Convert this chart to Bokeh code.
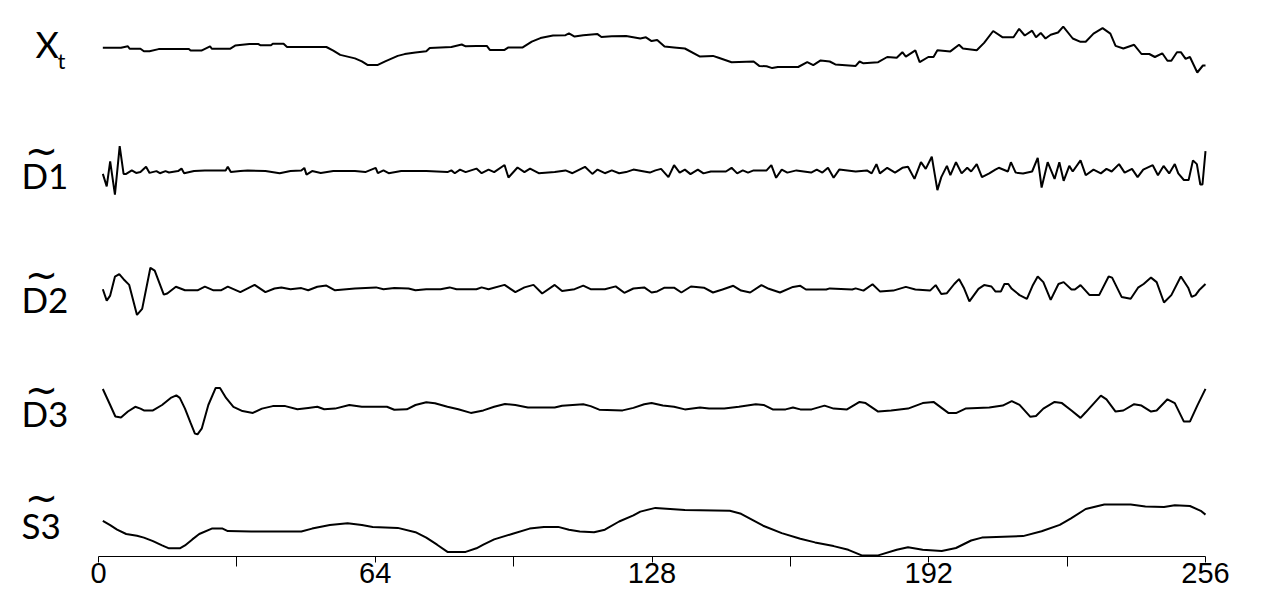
from bokeh.plotting import figure
from bokeh.models import Range1d, FixedTicker
from bokeh.embed import file_html
from bokeh.resources import INLINE
from bokeh.core.properties import value

# ---------------- data ----------------
XT_T = [1, 5.2, 6.8, 7.2, 9.7, 10.5, 11.8, 13.9, 20.9, 21.3, 23.8, 25.8, 26.2, 30.4, 31.6, 34.9, 37, 37.4, 39.9, 40.3,
        42.8, 43.6, 52.7, 54.3, 55.9, 59.3, 60.9, 62.2, 64.6, 66.3, 69.2, 70.8, 73.3, 75.8, 76.6, 81.6, 84, 84.9, 87.4, 89.8,
        90.5, 93.9, 94.8, 98.1, 100.2, 102.2, 105.1, 108, 108.8, 110.1, 112.1, 115.4, 116.3, 118.7, 122,
        125.3, 126.6, 127.9, 129.2, 130.9, 133.1, 135.6, 139.1, 142.1, 143.4, 146.4, 151.5, 152.8, 154.5, 155.8, 157.1,
        161.8, 163.9, 165.3, 167, 169.1, 170.4, 175.1, 176, 176.9, 180.3, 182.4, 184.6, 185.9, 186.7, 188.9, 189.9, 191.9,
        193.1, 194, 197, 199, 199.9, 203.1, 204.8, 206.9, 209.1, 211.6, 212.9, 214.2, 215.9, 216.8, 217.9, 219, 220.2,
        221.9, 223.1, 225.3, 227.1, 228.3, 230.1, 232.2, 234, 235.2, 237, 239.5, 241.2, 243, 244.3, 246, 247.2, 248.1,
        249.4, 250.3, 251.4, 252.4, 254.1, 255.4, 256]
XT_V = [-3.2, -3.2, -1.8, -4.3, -4.3, -6.8, -6.8, -4.6, -4.6, -6.1, -6.1, -1.8, -4.3, -4.3, -1.1, 0.4, 0.4, -0.7, -0.7, 0.7,
        0.7, -2.5, -2.5, -6.1, -10.4, -13.9, -16.8, -20.4, -20.4, -16.8, -11.4, -9.6, -7.9, -6.8, -3.6, -2.5, 0, -1.8, -1.4, -1.4,
        -5.4, -5.4, -2.9, -2.9, 2.9, 6.4, 8.9, 9.3, 11.1, 7.9, 9.3, 10.4, 7.5, 8.2, 8.6,
        6, 7.2, 3.4, 4.6, -2.1, -2.9, -4, -12.1, -11.4, -13.3, -17.7, -17, -21.4, -21.8, -23.6, -22.5,
        -22.5, -17.7, -20.7, -15.9, -17, -19.9, -21.4, -17, -18.8, -17.7, -12.5, -13.3, -7.7, -12.1, -5.8, -17.7, -12.5,
        -12.5, -5.8, -6.9, -0.3, -4, -5.8, 1.6, 13.5, 7.2, 7.2, 15.7, 9, 13.8, 7.2, 11.6, 6, 9.8,
        12, 17.9, 6, 2.7, 2.7, 10.9, 16.4, 10.9, -1.4, -4, -0.3, -9.5, -9.5, -12.5, -8.8, -16.2, -16.2,
        -7.7, -7.7, -14.4, -12.5, -28, -21, -21]

D1_T = [1, 1.9, 2.7, 3.8, 4.9, 5.8, 6.4, 7.7, 8.7, 9.7, 11, 11.8, 13.4, 14.2, 15.5, 16.3, 18.4, 19.2, 19.8, 22.1,
        24.6, 29.4, 29.9, 30.6, 32.8, 34.5, 38.6, 41.9, 44.4, 46.9, 47.6, 48.1, 49.4, 51.4, 54.3, 59.3, 61.7, 64.1, 64.6,
        65.9, 67.1, 70, 75.8, 80.7, 81.6, 82.4, 83.6, 84.9, 87.4, 88.6, 90.2, 91.5, 93.9, 94.8, 96.9, 98.5, 99.8, 101.8,
        105.5, 108, 109.6, 112.5, 114.2, 115.4, 117.1, 118.7, 120.4, 122, 123.7,
        126.2, 127.5, 128.8, 130.1, 131.8, 133.1, 134.4, 135.6, 136.9, 138.6, 139.9, 141.6, 145.1, 146.4, 147.7, 149,
        150.2, 151.5, 154.5, 155.6, 156.7, 158, 159.3, 161.4, 163.1, 164.8, 166.1, 167.4, 168.7, 170, 171.3, 175.1,
        177.7, 178.8, 179.9, 180.7, 182.4, 184.2, 185.9, 187.2, 188.7, 190.2, 191.3, 192.7, 194, 194.9, 196.2, 197,
        198.3, 199.6, 200.9, 201.8, 203.1, 204.3, 206, 207.4, 208.2, 210.3, 211, 212.1, 213.8, 215.9, 217.2, 218.1,
        219.5, 221.1, 222.2, 223.2, 224.5, 225.3, 227.1, 228.3, 230.1, 231.8, 233.1, 234.3, 236, 237.3, 239, 240.3,
        241.6, 243.8, 245, 246.3, 247.6, 248.9, 249.7, 251, 252.1, 253.1, 254, 254.8, 255.3, 256]
D1_V = [-2.4, -14.9, 10.1, -23.1, 25.4, -2.4, -2.4, 1.1, -1.4, -0.6, 4.7, -1.4, 0.4, -1.7, 0.4, -1, 0.4, 2.9, -1.7, 0.4,
        1.1, 1.1, 4.7, -0.6, 0.4, 1.1, 0.4, -1.7, 0.4, 1.1, 3.6, -3.1, 0.4, -1.4, 0.4, 0.4, -0.6, 3.6, -1.7,
        1.1, -1.7, 0.4, 0.4, -0.6, 1.1, -1.7, 1.9, -0.6, 2.9, -1.7, 1.9, -0.6, 6.5, -6, 4, -0.6, 2.9, -1.7,
        -0.6, 1.1, -1.7, 4.7, -2.4, 1.9, -1.7, 1.1, -1.7, -0.6, 1.9,
        0, -1.1, 1.1, 2.6, -5.6, 6.3, -1.1, 1.9, -2.6, 1.9, -1.9, 0, 0, 3.7, -1.9, 1.1,
        -1.1, 1.1, 1.1, 6.3, -6.3, 1.9, -1.1, 1.1, 0, -1.1, 1.9, -1.1, 3.7, -6.3, 1.9, 0,
        1.1, -1.9, 7.4, -1.9, 3.7, -1.1, 3.7, 4.8, -7.4, 9.3, 2.6, 14.8, -18.6, -5.6, 5.6, -3.7,
        9.3, -1.9, 3.7, 0, 7.4, -5.6, -1.9, 1.9, 3.7, 0, 9.3, -1.1, -1.9, 0, 13.7, -16,
        9.3, -7.4, 9.3, -9.3, 5.6, 0, 11.1, -3.7, 1.9, -1.9, 2.6, 0, 7.4, -1.1, 2.6, -5.6,
        1.9, 6.3, -3.7, 5.6, -1.9, 7.4, -1.9, -8.5, -8.5, 11.1, 7.4, -13, -13, 20.4]

D2_T = [1, 1.9, 2.7, 3.8, 4.8, 5.8, 7.1, 8.9, 10.1, 12, 13, 15.1, 15.9, 17.9, 20, 22.9, 24.6, 26.6, 28.3, 29.9,
        32.8, 36.1, 38.6, 40.7, 42.3, 44.4, 46.9, 48.5, 50.6, 52.7, 54.7, 59.3, 64.2, 65.9, 68.4, 71.7, 73.3, 75.8,
        79.1, 81.2, 82.8, 87.4, 88.6, 90.2, 93.9, 96.4, 98.5, 100.6, 102.6, 105.5, 107.2, 110.1, 112.1, 113.8, 117.1,
        119.6, 121.6, 123.7, 126.2,
        127.9, 129.2, 130.9, 133.1, 134.8, 137, 140, 142.1, 144.3, 146.8, 148.6, 150.7, 153.3, 155, 157.6, 160.6,
        162.3, 163.6, 168.3, 169.1, 174.3, 175.1, 176.9, 179, 180.7, 183.8, 186.7, 188.9, 192.3, 193.6, 194.9, 196.2,
        197.9, 199, 200.1, 201.4, 203.5, 204.8, 206.5, 207.4, 208.7, 209.5, 210.4, 211.2, 213, 214.7, 216, 217.2,
        218.5, 220.2, 222, 223.2, 225, 225.8, 227.1, 229.2, 231.4, 233.6, 234.4, 236.6, 238.7, 240.4, 241.7, 243.4,
        244.7, 246.4, 248.1, 250.3, 252, 252.8, 253.7, 254.5, 256]
D2_V = [0.3, -11.1, -6.1, 12.8, 15.3, 10.3, 4.6, -25.4, -19.4, 21.7, 18.9, -5.1, -4, 2.8, -0.8, -0.8, 2.8, -0.8, -0.8, 2.8,
        -2.6, 4.6, -2.6, 1, 2.1, 0.3, 1.4, -0.8, 2.8, 3.9, -0.8, 1, 2.1, 0.3, 1.4, 1, -0.8, 0.3,
        0.3, 2.1, 0.3, 0.3, 2.1, 0.3, 4.6, -2.6, 2.1, 4.6, -4, 4.6, -1.5, 0.3, 3.9, 0.3, 0.3,
        3.1, -3.3, 1, 2.1,
        -3, -1.9, 1.8, 1.8, -3, 3, 1.8, -3, 0, 3.7, -1.1, -3, 4.4, 0.7, -3, 2.6,
        3.7, 0, 0, 1.1, 0, 1.1, -1.1, 5.2, -1.9, -1.1, 2.6, 0, -1.1, 4.4, -4.5, -3.7,
        5.5, 10.4, 1.8, -11.9, 0.7, 4.4, 3, -1.9, -1.9, 5.5, 5.5, 0.7, -5.6, -9.3, 3.7, 13,
        7.4, -10.4, 5.5, 7.4, 0, 0, 4.4, -5.6, -5.6, 13, 11.9, -7.4, -9.3, 1.8, 5.5, 11.9,
        7.4, -13, -5.6, 13, 1.8, -7.4, -5.6, -0.8, 5.5]

D3_T = [1, 2.7, 3.9, 5.2, 6.8, 8.5, 9.7, 10.5, 12.6, 14.7, 16.7, 18, 18.8, 20, 21.3, 22.3, 22.9, 23.9, 25.4, 27.1,
        28.1, 29.5, 31.2, 33.3, 35.7, 37.8, 40.3, 43.2, 46, 48.5, 50.6, 52.2, 54.7, 58, 60.9, 66.7, 68.4, 71.3, 73.3,
        75.8, 77.8, 80.7, 83.2, 86.1, 89, 91.5, 94, 96.4, 99.3, 105.5, 107.2, 112.1, 113.8, 115.8, 121.2, 123.7, 126.2,
        127.9, 130.5, 133.1, 135.6, 139.1, 141.2, 144.7, 148.1, 152, 153.8, 155.9, 158.9, 160.6, 162.3, 164.9, 167.9,
        170, 173.1, 176, 177.4, 180.3, 183.3, 187.2, 190.6, 193.1, 196.6, 198.3, 200.5, 206, 209.1, 211.2, 213,
        215.5, 216.8, 218.5, 221.1, 222.8, 225, 227.1, 228.3, 231.8, 233.1, 235.2, 237, 239.5, 241.2, 243.4, 244.7,
        247.2, 248.9, 251, 252.4, 254.1, 256]
D3_V = [18.5, 2.5, -9, -10, -4, 0.7, -1.1, -2.9, -2.9, 2.5, 9.6, 12.1, 9.6, -1.1, -15.4, -26.1, -26.8, -20.8, 2.5, 19.6,
        19.6, 9.6, 0.7, -3.6, -5.4, -1.1, 1.4, 1.4, -1.8, -0.4, 0.7, -1.8, -1.1, 2.5, 0.7, 0.7, -2.2, -1.8, 2.5,
        5.3, 4.2, 0.7, -1.8, -5.4, -2.9, 0.7, 3.5, 2.5, 0, 0, 1.7, 3.2, 1.4, -2.2, -2.9, -0.4, 3.2,
        4.4, 1.9, 0.7, -1.9, 0, -1.1, -1.1, 0.7, 3.3, 2.6, -1.9, -1.9, 0, -1.9, -1.9, 1.9,
        -1.1, -1.9, 5.6, 4.4, -4.1, -3, -1.1, 4.4, 5.6, -5.6, -5.6, -1.1, 0, 1.9, 6.3, 2.6,
        -9.3, -8.5, -1.1, 5.6, 4.4, -3, -10.4, -4.8, 11.9, 8.2, -4.1, -3, 3.3, 1.9, -4.1, -3,
        8.2, 4.4, -14.1, -14.1, 1.9, 18.6]

S3_T = [1, 2.7, 4.3, 6.4, 8.9, 10.5, 12.6, 14.7, 16.3, 18.8, 20, 21.7, 23.3, 26.2, 28.7, 29.9, 35.3, 46.9, 49.4, 53.5,
        57.6, 60.9, 63.4, 69.2, 73.3, 75.8, 78.3, 80.7, 84.9, 87.4, 89, 91.5, 95.6, 99.7, 103, 106.3, 108.8, 111.3,
        114.6, 117.1, 120.4, 123.7,
        125.3, 128.8, 135.6, 146, 148.6, 153.7, 158, 162.3, 165.7, 170, 173.4, 176.5, 180.3, 184.6, 187.2, 190.6,
        195, 198.3, 201.8, 204.3, 213.8, 218.1, 222.3, 224.9, 228.3, 232.6, 238.7, 242.1, 246.4, 248.9, 252.4,
        254.9, 256]
S3_V = [35.7, 31.4, 26.8, 22.5, 20.7, 18.9, 15.4, 11.1, 8.2, 8.2, 11.1, 17.1, 22.5, 27.9, 27.9, 25.4, 25, 25, 27.9, 31.4,
        33.2, 31.4, 29.6, 28.6, 24.3, 18.9, 11.8, 4.6, 4.6, 8.2, 11.8, 17.1, 22.5, 27.9, 29.6, 29.6, 26.8, 25,
        24.3, 26.8, 35, 41.1,
        44.9, 48.6, 46.4, 45.7, 42.7, 30.8, 23.4, 17.8, 14.1, 10.4, 6.7, 1.1, 1.1, 6.7, 9.3, 6.7,
        5.6, 8.5, 16, 18.9, 20.4, 25.2, 31.6, 38.2, 47.5, 52, 52, 50.1, 49.4, 51.2, 50.5,
        45.7, 41.9]

SERIES_NAMES = ["X", "D1", "D2", "D3", "S3"]
X_TICKS = [0, 64, 128, 192, 256]
X_MINOR_TICKS = [32, 96, 160, 224]

# ---------------- layout ----------------
W, H = 1266, 595          # canvas (drawn from the window's top-left corner)
AXIS_Y = 556.0            # window y of the x axis line = bottom of the frame
PX0, PX256 = 98.0, 1205.0 # window x of t = 0 and t = 256
K = 256.0 / (PX256 - PX0)


def dx(page_x):
    return (page_x - PX0) * K


def dy(page_y):
    return -page_y


BASELINES = {"X": 44.0, "D1": 171.0, "D2": 289.0, "D3": 407.0, "S3": AXIS_Y}

p = figure(width=W, height=H, output_backend="svg", toolbar_location=None,
           x_range=Range1d(dx(0), dx(W)), y_range=Range1d(dy(AXIS_Y), dy(0)),
           min_border_left=0, min_border_right=0, min_border_top=0,
           min_border_bottom=int(H - AXIS_Y), y_axis_location=None)
p.grid.visible = False
p.outline_line_color = None
p.background_fill_color = "white"
p.border_fill_color = "white"

data = {"X": (XT_T, XT_V), "D1": (D1_T, D1_V), "D2": (D2_T, D2_V),
        "D3": (D3_T, D3_V), "S3": (S3_T, S3_V)}
for name in SERIES_NAMES:
    t, v = data[name]
    base = dy(BASELINES[name])
    p.line(t, [base + vv for vv in v], line_color="black", line_width=2)

ax = p.xaxis[0]
ax.bounds = (0, 256)
ax.ticker = FixedTicker(ticks=X_TICKS, minor_ticks=X_MINOR_TICKS)
ax.axis_line_color = "black"
ax.axis_line_width = 1
ax.major_tick_line_color = "black"
ax.minor_tick_line_color = "black"
ax.major_tick_out = 6
ax.major_tick_in = 0
ax.minor_tick_out = 10
ax.minor_tick_in = 0
ax.major_label_standoff = -4
ax.major_label_text_font = "Liberation Sans"
ax.major_label_text_font_size = "29px"
ax.major_label_text_color = "black"

# left-hand series labels (y given as the anchor Bokeh uses for these texts)
LABEL_FONT = value("Lato")
p.text(x=[dx(35)], y=[dy(43)], text=["X"], text_font=LABEL_FONT, text_font_size="36px",
       text_color="black", text_baseline="alphabetic", text_align="left")
p.text(x=[dx(57)], y=[dy(60)], text=["t"], text_font=LABEL_FONT, text_font_size="22px",
       text_color="black", text_baseline="alphabetic", text_align="left")

lab_names = ["D1", "D2", "D3", "S3"]
lab_y = [174, 298, 412, 524]
tilde_y = [150, 274, 389, 497]
p.text(x=[dx(21)] * 4, y=[dy(b) for b in lab_y], text=lab_names, text_font=LABEL_FONT,
       text_font_size="35px", text_color="black", text_baseline="alphabetic", text_align="left")
p.text(x=[dx(41)] * 4, y=[dy(m) for m in tilde_y], text=["~"] * 4,
       text_font=value("DejaVu Sans"), text_font_size="40px", text_color="black",
       text_baseline="alphabetic", text_align="center")

open("out.html", "w").write(file_html(p, INLINE))
